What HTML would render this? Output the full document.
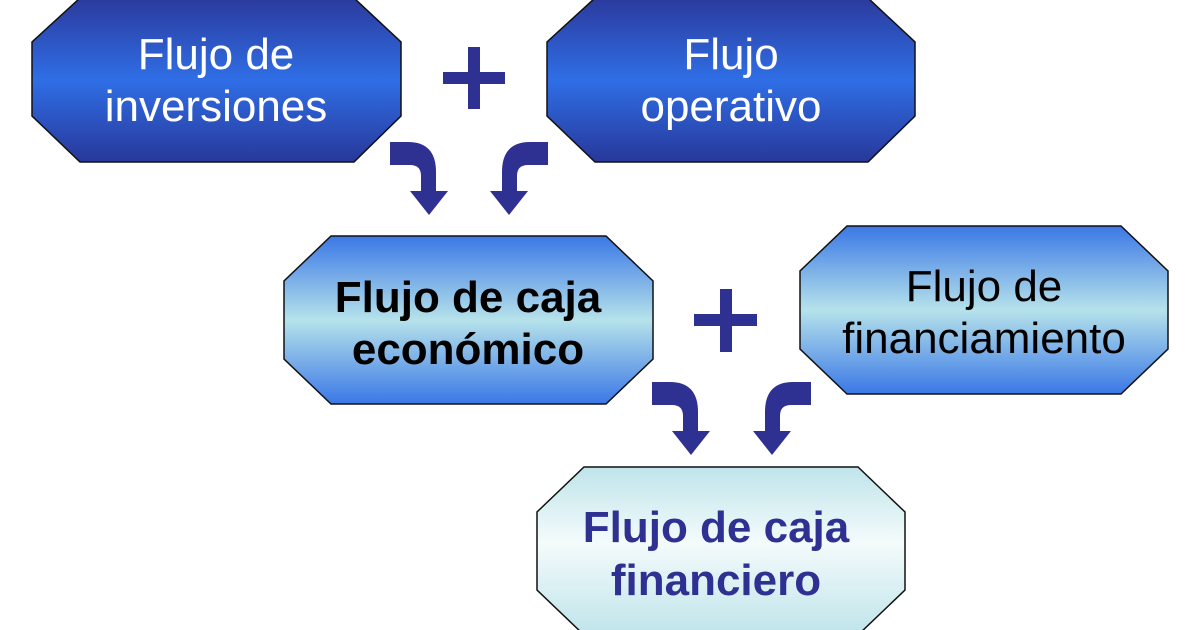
<!DOCTYPE html>
<html><head><meta charset="utf-8"><style>html,body{margin:0;padding:0;background:#fff}svg{display:block}</style></head>
<body>
<svg width="1200" height="630" viewBox="0 0 1200 630" xmlns="http://www.w3.org/2000/svg" font-family="Liberation Sans, Arial, sans-serif">
<defs>
<linearGradient id="gDark" x1="0" y1="0" x2="0" y2="1">
<stop offset="0" stop-color="#2b3a9c"/><stop offset="0.5" stop-color="#2f6ee6"/><stop offset="1" stop-color="#28389a"/>
</linearGradient>
<linearGradient id="gMid" x1="0" y1="0" x2="0" y2="1">
<stop offset="0" stop-color="#3a78e6"/><stop offset="0.5" stop-color="#b6e2ea"/><stop offset="1" stop-color="#3a78e6"/>
</linearGradient>
<linearGradient id="gLight" x1="0" y1="0" x2="0" y2="1">
<stop offset="0" stop-color="#bfe4ea"/><stop offset="0.45" stop-color="#f4fbfc"/><stop offset="1" stop-color="#bfe4ea"/>
</linearGradient>
<path id="arr" d="M0,0 H18 Q46,0 46,30 V49 H58 L39,73 L20,49 H31 V34 Q31,23 20,23 H0 Z" fill="#2e3192"/>
</defs>
<polygon points="80,-2 354,-2 401,42 401,116 354,162 80,162 32,116 32,42" fill="url(#gDark)" stroke="#111" stroke-width="1.5"/>
<polygon points="595,-2 868,-2 915,42 915,116 868,162 595,162 547,116 547,42" fill="url(#gDark)" stroke="#111" stroke-width="1.5"/>
<polygon points="331,236 606,236 653,281 653,359 606,404 331,404 284,359 284,281" fill="url(#gMid)" stroke="#111" stroke-width="1.5"/>
<polygon points="847,226 1121,226 1168,271 1168,349 1121,394 847,394 800,349 800,271" fill="url(#gMid)" stroke="#111" stroke-width="1.5"/>
<polygon points="584,467 858,467 905,512 905,590 858,635 584,635 537,590 537,512" fill="url(#gLight)" stroke="#111" stroke-width="1.5"/>

<g fill="#2e3192">
<rect x="443" y="72" width="62" height="12"/><rect x="468" y="47" width="12" height="62"/>
<rect x="694" y="314" width="63" height="12"/><rect x="720" y="289" width="12" height="63"/>
</g>
<use href="#arr" transform="translate(390,142)"/>
<use href="#arr" transform="translate(548,142) scale(-1,1)"/>
<use href="#arr" transform="translate(652,382)"/>
<use href="#arr" transform="translate(811,382) scale(-1,1)"/>

<g font-size="44" text-anchor="middle">
<text x="216" y="69" fill="#fff">Flujo de</text>
<text x="216" y="121" fill="#fff">inversiones</text>
<text x="731" y="69" fill="#fff">Flujo</text>
<text x="731" y="121" fill="#fff">operativo</text>
<text x="468" y="312" font-weight="bold" fill="#000">Flujo de caja</text>
<text x="468" y="364" font-weight="bold" fill="#000">económico</text>
<text x="984" y="301" fill="#000">Flujo de</text>
<text x="984" y="353" fill="#000">financiamiento</text>
<text x="716" y="542" font-weight="bold" fill="#2e3192">Flujo de caja</text>
<text x="716" y="595" font-weight="bold" fill="#2e3192">financiero</text>
</g>
</svg>
</body></html>
